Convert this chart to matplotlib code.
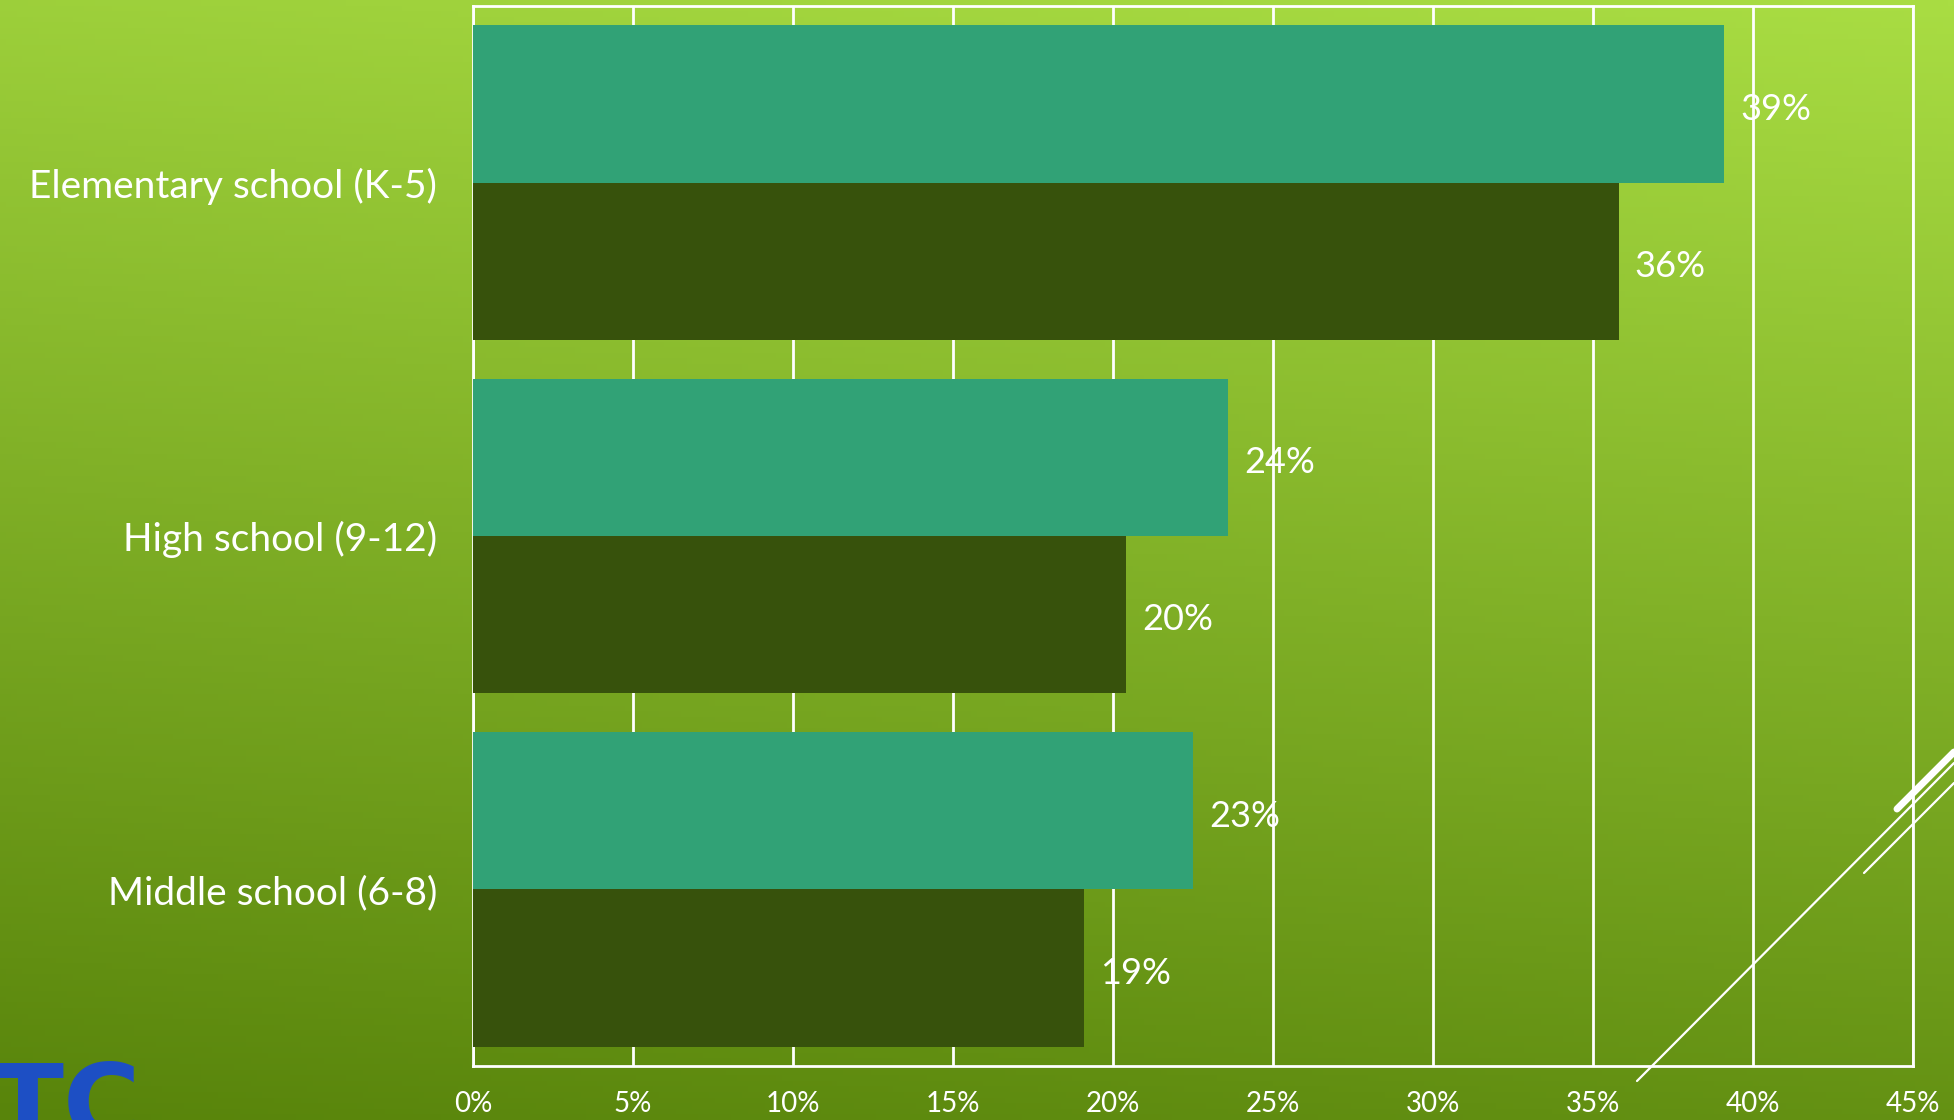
import numpy as np
import matplotlib.pyplot as plt

categories = ["Middle school (6-8)", "High school (9-12)", "Elementary school (K-5)"]
series_a = [22.5, 23.6, 39.1]   # teal (upper bar)
series_b = [19.1, 20.4, 35.8]   # dark green (lower bar)
labels_a = ["23%", "24%", "39%"]
labels_b = ["19%", "20%", "36%"]
ticks = [0, 5, 10, 15, 20, 25, 30, 35, 40, 45]

plt.rcParams['font.family'] = ['Lato', 'DejaVu Sans']

fig = plt.figure(figsize=(19.54, 11.2), dpi=100)

# gradient background
bg = fig.add_axes([0, 0, 1, 1])
h, w = 200, 350
yy, xx = np.mgrid[0:1:h*1j, 0:1:w*1j]
t = np.clip(0.85 * yy + 0.15 * (1 - xx), 0, 1)  # 0 at top-right, 1 at bottom-left
top = np.array([0xa9, 0xdd, 0x43]) / 255
bot = np.array([0x58, 0x84, 0x0b]) / 255
img = top[None, None, :] * (1 - t[..., None]) + bot[None, None, :] * t[..., None]
bg.imshow(img, extent=[0, 1, 0, 1], aspect='auto', origin='upper')
bg.set_xlim(0, 1)
bg.set_ylim(0, 1)
bg.axis('off')

# decorative lines
W, H = 1954, 1120
def px(x, y):
    return x / W, 1 - y / H
for (x0, y0), (x1, y1), lw in [((1637, 1081), (1954, 763), 1.6),
                               ((1864, 873), (1954, 783), 1.6),
                               ((1897, 809), (1954, 752), 5)]:
    a, b = px(x0, y0)
    c, d = px(x1, y1)
    bg.plot([a, c], [b, d], color='white', lw=lw, solid_capstyle='round')

# logo fragment (cut by the page edge, as in the slide)
bg.text(-8 / W, -42 / H, "TC", color='#1d4fc4', fontsize=76, fontweight='bold',
        ha='left', va='bottom', clip_on=True, family=['DejaVu Sans'])

ax = fig.add_axes([473 / W, 1 - 1066 / H, (1913 - 473) / W, (1066 - 6) / H])
ax.patch.set_alpha(0)

y = np.arange(len(categories))
bh = 0.445
bars_a = ax.barh(y + bh / 2, series_a, height=bh, color='#31a276', zorder=3)
bars_b = ax.barh(y - bh / 2, series_b, height=bh, color='#37520c', zorder=3)

for bar, lab in zip(bars_a, labels_a):
    ax.text(bar.get_width() + 0.5, bar.get_y() + bar.get_height() / 2 - 0.015, lab,
            color='white', fontsize=26, va='center', ha='left', zorder=4)
for bar, lab in zip(bars_b, labels_b):
    ax.text(bar.get_width() + 0.5, bar.get_y() + bar.get_height() / 2 - 0.015, lab,
            color='white', fontsize=26, va='center', ha='left', zorder=4)

ax.set_xlim(0, 45)
ax.set_ylim(-0.5, 2.5)
ax.set_xticks(ticks)
ax.set_xticklabels([f"{v}%" for v in ticks])
ax.set_yticks(y)
ax.set_yticklabels(categories)
ax.tick_params(axis='x', colors='white', labelsize=20, length=0, pad=18)
ax.tick_params(axis='y', colors='white', labelsize=28, length=0, pad=26)
ax.grid(axis='x', color='white', lw=2, zorder=1)
for s in ax.spines.values():
    s.set_color('white')
    s.set_linewidth(2)

fig.savefig("out.png", dpi=100)
